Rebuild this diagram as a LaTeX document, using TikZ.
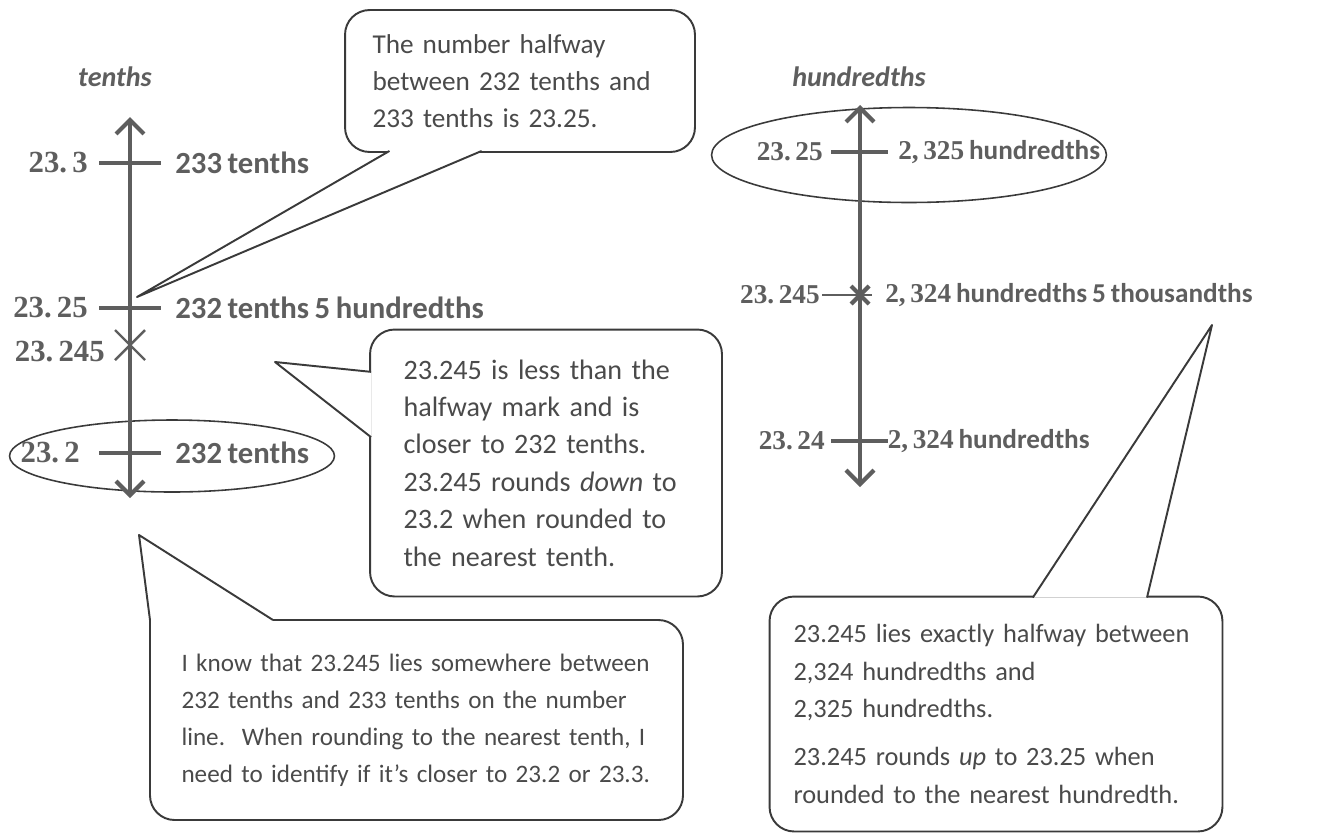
\documentclass[tikz,border=0pt]{standalone}
\usepackage{fontspec}
\setmainfont{Carlito}[WordSpace=0.8]
\newfontfamily\numfont{Liberation Serif}
\usepackage{xcolor}
\usetikzlibrary{positioning,calc,arrows.meta,shapes.geometric}
\definecolor{ink}{HTML}{4A4A4A}
\definecolor{rim}{HTML}{3A3A3A}
\definecolor{axis}{HTML}{5E5E5E}

\begin{document}
\begin{tikzpicture}[x=0.02cm,y=-0.02cm,
    every node/.style={text=ink},
    numline/.style={draw=axis,line width=2.4pt,
      {Straight Barb[length=2.8mm,width=5.6mm]}-{Straight Barb[length=2.8mm,width=5.6mm]}},
    tickmark/.style={draw=axis,line width=2.4pt},
    cross/.style={draw=axis,line width=1.4pt},
    lblT/.style={font=\fontsize{17.5}{20}\selectfont\bfseries,text=axis,inner sep=0pt},
    lblH/.style={font=\fontsize{15.5}{18}\selectfont\bfseries,text=axis,inner sep=0pt},
    head/.style={font=\fontsize{16}{19}\selectfont\bfseries\itshape,text=axis},
    ring/.style={draw=rim,line width=0.9pt,ellipse,inner sep=0pt},
    bubble/.style={draw=rim,line width=1.1pt,rounded corners=14pt,fill=white,
      align=left,inner sep=0pt},
    beak/.style={draw=rim,line width=1.1pt,fill=white,line join=round}]

  \useasboundingbox (0,0) rectangle (1322,836);

  \node[bubble,font=\fontsize{15.5}{21}\selectfont,minimum width=7cm,minimum height=2.84cm,
    text width=5.9cm] (half) at (520,81)
    {The number halfway\\between 232 tenths and\\233 tenths is 23.25.};
  \node[bubble,font=\fontsize{16}{21.3}\selectfont,minimum width=7.04cm,minimum height=5.34cm,
    text width=5.7cm] (closer) at (546,463)
    {23.245 is less than the\\halfway mark and is\\closer to 232 tenths.\\23.245 rounds \emph{down} to\\23.2 when rounded to\\the nearest tenth.};
  \node[bubble,font=\fontsize{15}{21.3}\selectfont,minimum width=9.06cm,minimum height=4.7cm,
    text width=8.1cm] (exact) at (996,714)
    {23.245 lies exactly halfway between\\2,324 hundredths and\\2,325 hundredths.\\[6pt]23.245 rounds \emph{up} to 23.25 when\\rounded to the nearest hundredth.};

  \coordinate (halfTip) at (137,297);
  \coordinate (closerTip) at (275,362);
  \coordinate (knowTip) at (139,535);
  \coordinate (exactTip) at (1212,325);
  \coordinate (kNW) at (150,620);
  \coordinate (kNE) at (683,620);
  \coordinate (kSE) at (683,820);
  \coordinate (kSW) at (150,820);
  \coordinate (kBase) at (273,620);
  \draw[beak] ($(half.south west)!0.129!(half.south east)+(0,-2)$) -- (halfTip)
    -- ($(half.south west)!0.391!(half.south east)+(0,-2)$);
  \draw[beak] ($(closer.north west)!0.161!(closer.south west)+(2,0)$) -- (closerTip)
    -- ($(closer.north west)!0.404!(closer.south west)+(2,0)$);
  \draw[beak] (kBase) -- (knowTip) -- (kNW)
    [rounded corners=14pt] -- (kSW) -- (kSE) -- (kNE) -- (kBase);
  \draw[beak] ($(exact.north west)!0.581!(exact.north east)+(0,2)$) -- (exactTip)
    -- ($(exact.north west)!0.832!(exact.north east)+(0,2)$);

  \node[align=left,inner sep=0pt,font=\fontsize{14.3}{21}\selectfont,text width=9.4cm] (know)
    at ($(kNW)!0.5!(kSE)$)
    {I know that 23.245 lies somewhere between\\232 tenths and 233 tenths on the number\\line.\ \ When rounding to the nearest tenth, I\\need to identify if it’s closer to 23.2 or 23.3.};

  \coordinate (tTop) at (130,117);
  \coordinate (tBot) at (130,498);
  \coordinate (t233) at (130,163);
  \coordinate (tHalf) at (130,308);
  \coordinate (tMark) at (130,345);
  \coordinate (t232) at (130,453);

  \node[head] (tenths) at (115,77) {tenths};
  \node[ring,minimum width=6.5cm,minimum height=1.44cm] (ringT) at (172,456) {};
  \draw[numline] (tBot) -- (tTop);
  \foreach \p in {t233,tHalf,t232}
    \draw[tickmark] ([xshift=-0.62cm]\p) -- ([xshift=0.62cm]\p);
  \draw[cross] ([shift={(-15,-15)}]tMark) -- ([shift={(15,15)}]tMark)
    ([shift={(-15,15)}]tMark) -- ([shift={(15,-15)}]tMark);

  \node[lblT,left=0.84cm of t233] (n233) {\numfont 23.\,3};
  \node[lblT,right=0.9cm of t233] (w233) {233 tenths};
  \node[lblT,left=0.84cm of tHalf] (nHalf) {\numfont 23.\,25};
  \node[lblT,right=0.9cm of tHalf] (wHalf) {232 tenths 5 hundredths};
  \node[lblT,left=0.5cm of tMark,yshift=-0.14cm] (nMark) {\numfont 23.\,245};
  \node[lblT,left=1cm of t232] (n232) {\numfont 23.\,2};
  \node[lblT,right=0.9cm of t232] (w232) {232 tenths};

  \coordinate (hTop) at (860,105);
  \coordinate (hBot) at (860,487);
  \coordinate (h2325) at (860,152);
  \coordinate (hMark) at (860,295);
  \coordinate (h2324) at (860,441);

  \node[head] (hundredths) at (859,77) {hundredths};
  \node[ring,minimum width=7.9cm,minimum height=1.9cm] (ringH) at (909,155) {};
  \draw[numline] (hBot) -- (hTop);
  \foreach \p in {h2325,h2324}
    \draw[tickmark] ([xshift=-0.58cm]\p) -- ([xshift=0.56cm]\p);
  \draw[cross] ([xshift=-0.76cm]hMark) -- ([xshift=0.24cm]hMark);
  \draw[tickmark] ([shift={(-9,-9)}]hMark) -- ([shift={(9,9)}]hMark)
    ([shift={(-9,9)}]hMark) -- ([shift={(9,-9)}]hMark);

  \node[lblH,left=0.74cm of h2325] (n2325) {\numfont 23.\,25};
  \node[lblH,right=0.76cm of h2325] (w2325) {{\numfont 2,\,325} hundredths};
  \node[lblH,left=0.8cm of hMark] (nhMark) {\numfont 23.\,245};
  \node[lblH,right=0.5cm of hMark] (whMark) {{\numfont 2,\,324} hundredths 5 thousandths};
  \node[lblH,left=0.7cm of h2324] (n2324) {\numfont 23.\,24};
  \node[lblH,right=0.55cm of h2324] (w2324) {{\numfont 2,\,324} hundredths};
\end{tikzpicture}
\end{document}
